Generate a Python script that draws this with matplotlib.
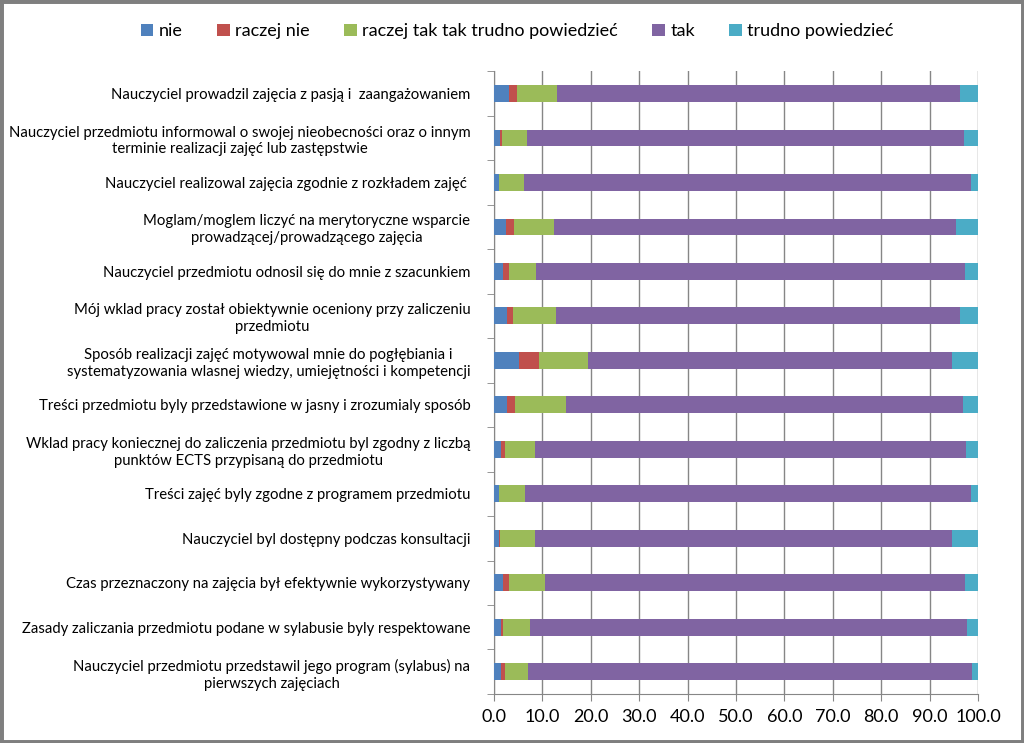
import matplotlib
matplotlib.use("Agg")
import matplotlib.pyplot as plt
from matplotlib.patches import Rectangle
import numpy as np

plt.rcParams['font.family'] = ['Lato', 'DejaVu Sans']

categories = [
    "Nauczyciel prowadzil zajęcia z pasją i  zaangażowaniem",
    "Nauczyciel przedmiotu informowal o swojej nieobecności oraz o innym\nterminie realizacji zajęć lub zastępstwie",
    "Nauczyciel realizowal zajęcia zgodnie z rozkładem zajęć ",
    "Moglam/moglem liczyć na merytoryczne wsparcie\nprowadzącej/prowadzącego zajęcia",
    "Nauczyciel przedmiotu odnosil się do mnie z szacunkiem",
    "Mój wklad pracy został obiektywnie oceniony przy zaliczeniu\nprzedmiotu",
    "Sposób realizacji zajęć motywowal mnie do pogłębiania i\nsystematyzowania wlasnej wiedzy, umiejętności i kompetencji",
    "Treści przedmiotu byly przedstawione w jasny i zrozumialy sposób",
    "Wklad pracy koniecznej do zaliczenia przedmiotu byl zgodny z liczbą\npunktów ECTS przypisaną do przedmiotu",
    "Treści zajęć byly zgodne z programem przedmiotu",
    "Nauczyciel byl dostępny podczas konsultacji",
    "Czas przeznaczony na zajęcia był efektywnie wykorzystywany",
    "Zasady zaliczania przedmiotu podane w sylabusie byly respektowane",
    "Nauczyciel przedmiotu przedstawil jego program (sylabus) na\npierwszych zajęciach",
]

series_names = ["nie", "raczej nie", "raczej tak tak trudno powiedzieć", "tak", "trudno powiedzieć"]

nie = [3.1, 1.2, 1.0, 2.4, 1.9, 2.6, 5.2, 2.6, 1.4, 1.0, 1.1, 1.9, 1.4, 1.4]
raczej_nie = [1.7, 0.5, 0.0, 1.8, 1.2, 1.3, 4.0, 1.7, 0.8, 0.0, 0.2, 1.3, 0.5, 0.8]
raczej_tak = [8.2, 5.1, 5.2, 8.1, 5.5, 8.9, 10.2, 10.5, 6.2, 5.4, 7.1, 7.4, 5.5, 4.8]
tak = [83.3, 90.4, 92.3, 83.2, 88.8, 83.5, 75.3, 82.0, 89.1, 92.1, 86.2, 86.8, 90.3, 91.8]
trudno = [3.7, 2.8, 1.5, 4.5, 2.6, 3.7, 5.3, 3.2, 2.5, 1.5, 5.4, 2.6, 2.3, 1.2]

colors = ["#4F81BD", "#C0504D", "#9BBB59", "#8064A2", "#4BACC6"]
values = [nie, raczej_nie, raczej_tak, tak, trudno]

fig = plt.figure(figsize=(10.24, 7.43), dpi=100)
ax = fig.add_axes([0.4824, 0.066, 0.4727, 0.838])

y = np.arange(len(categories))
left = np.zeros(len(categories))
for name, vals, col in zip(series_names, values, colors):
    ax.barh(y, vals, left=left, height=0.38, color=col, label=name, zorder=3)
    left += np.array(vals)

ax.set_ylim(len(categories) - 0.5, -0.5)
ax.set_xlim(0, 100)
ax.set_xticks(np.arange(0, 101, 10))
ax.set_xticklabels([f"{v:.1f}" for v in np.arange(0, 101, 10)], fontsize=13)
ax.set_yticks(y)
ax.set_yticklabels(categories, fontsize=10.7, ha='right', multialignment='center',
                   linespacing=1.25, color='black')
ax.tick_params(axis='y', length=0, pad=17)
ax.set_yticks(np.arange(-0.5, len(categories), 1), minor=True)
ax.tick_params(axis='y', which='minor', length=5, color='#868686', direction='out')
ax.tick_params(axis='x', length=5, color='#868686', direction='out', pad=6)
ax.xaxis.grid(True, color='#868686', linewidth=1, zorder=0)
ax.set_axisbelow(True)
for s in ['top', 'right']:
    ax.spines[s].set_visible(False)
for s in ['left', 'bottom']:
    ax.spines[s].set_color('#868686')

ax.legend(loc='center', bbox_to_anchor=(0.505, 0.958), bbox_transform=fig.transFigure,
          ncol=5, frameon=False, fontsize=13, handlelength=0.7, handleheight=0.7,
          handletextpad=0.3, columnspacing=1.9)

fig.patches.append(Rectangle((0, 0), 1, 1, transform=fig.transFigure, fill=False,
                             edgecolor='#7f7f7f', linewidth=5))

fig.savefig("out.png", dpi=100)
